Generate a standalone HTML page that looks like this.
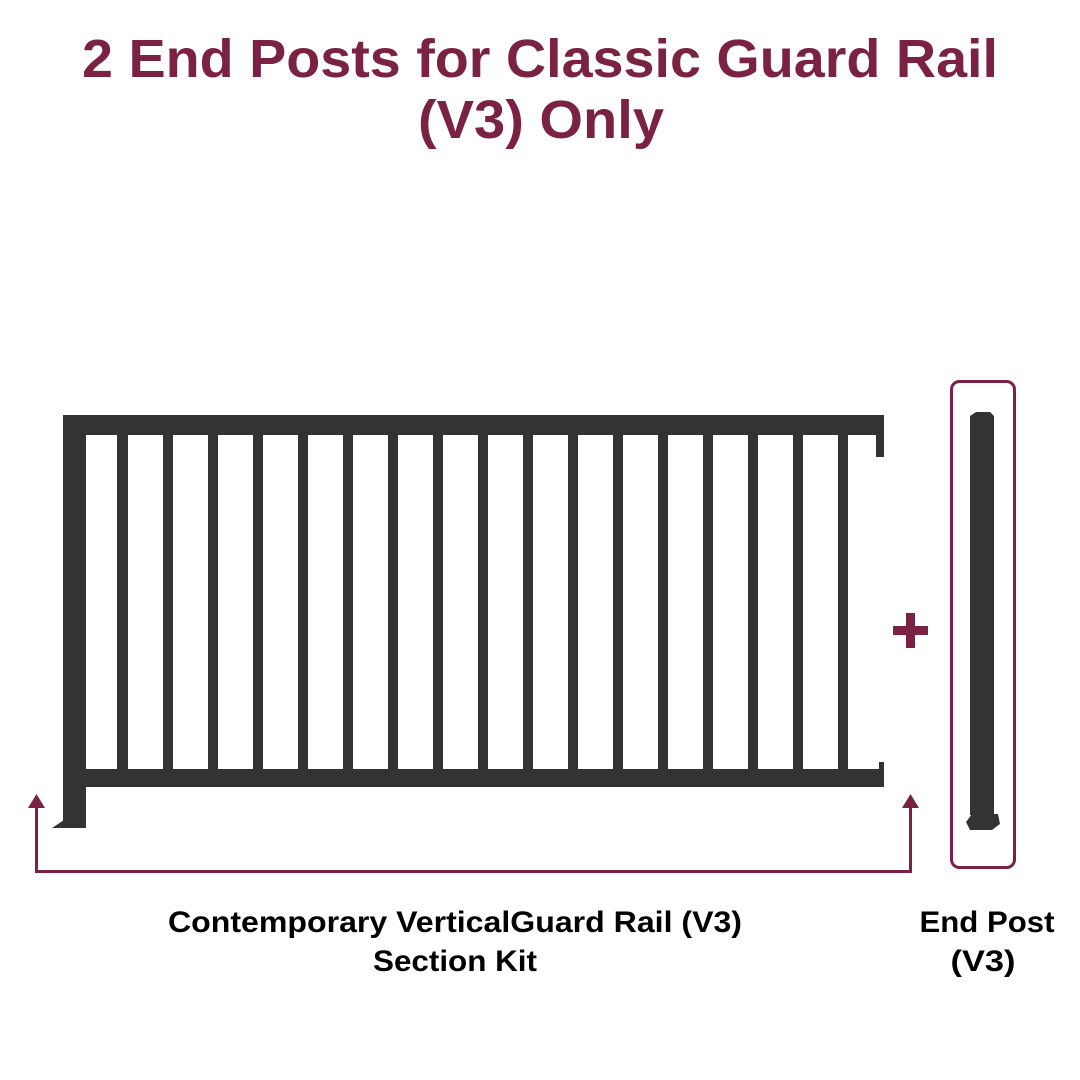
<!DOCTYPE html>
<html><head><meta charset="utf-8"><style>
html,body{margin:0;padding:0;background:#fff;}
svg{display:block;}
</style></head><body>
<svg width="1080" height="1080" viewBox="0 0 1080 1080" xmlns="http://www.w3.org/2000/svg">
<rect width="1080" height="1080" fill="#fff"/>
<g fill="#7b2244" font-family="Liberation Sans, sans-serif" font-weight="bold" font-size="54">
<text x="540" y="77" text-anchor="middle" textLength="916" lengthAdjust="spacingAndGlyphs">2 End Posts for Classic Guard Rail</text>
<text x="541" y="138" text-anchor="middle" textLength="246" lengthAdjust="spacingAndGlyphs">(V3) Only</text>
</g>
<g fill="#333">
<rect x="63" y="415" width="821" height="20"/>
<rect x="63" y="415" width="23" height="413"/>
<polygon points="52,828 86,828 86,820 64,820"/>
<rect x="876" y="435" width="8" height="22"/>
<rect x="83" y="769" width="801" height="18"/>
<rect x="879" y="762" width="5" height="10"/>
<rect x="117" y="435" width="11" height="336"/>
<rect x="163" y="435" width="10" height="336"/>
<rect x="208" y="435" width="10" height="336"/>
<rect x="253" y="435" width="10" height="336"/>
<rect x="298" y="435" width="10" height="336"/>
<rect x="343" y="435" width="10" height="336"/>
<rect x="388" y="435" width="10" height="336"/>
<rect x="433" y="435" width="10" height="336"/>
<rect x="478" y="435" width="10" height="336"/>
<rect x="523" y="435" width="10" height="336"/>
<rect x="568" y="435" width="10" height="336"/>
<rect x="613" y="435" width="10" height="336"/>
<rect x="658" y="435" width="10" height="336"/>
<rect x="703" y="435" width="10" height="336"/>
<rect x="748" y="435" width="10" height="336"/>
<rect x="793" y="435" width="10" height="336"/>
<rect x="838" y="435" width="10" height="336"/>
</g>
<g fill="#7b2244">
<rect x="35" y="806" width="3" height="67"/>
<rect x="35" y="870" width="877" height="3"/>
<rect x="909" y="806" width="3" height="67"/>
<polygon points="28,808 45,808 36.5,794"/>
<polygon points="902,808 919,808 910.5,794"/>
<rect x="893" y="626" width="35" height="9"/>
<rect x="906" y="613" width="9" height="35"/>
</g>
<rect x="951.5" y="381.5" width="63" height="486" rx="8" fill="none" stroke="#7b2244" stroke-width="3"/>
<g fill="#333">
<polygon points="970,416 976,412 990,412 994,416 994,815 970,815"/>
<polygon points="966,822 972,814 998,814 1000,824 992,830 970,830"/>
</g>
<g font-family="Liberation Sans, sans-serif" font-size="30" font-weight="bold" fill="#000" text-anchor="middle">
<text x="455" y="932" textLength="574" lengthAdjust="spacingAndGlyphs">Contemporary VerticalGuard Rail (V3)</text>
<text x="455" y="971" textLength="164" lengthAdjust="spacingAndGlyphs">Section Kit</text>
<text x="987" y="932" textLength="135" lengthAdjust="spacingAndGlyphs">End Post</text>
<text x="983" y="971" textLength="65" lengthAdjust="spacingAndGlyphs">(V3)</text>
</g>
</svg>
</body></html>
